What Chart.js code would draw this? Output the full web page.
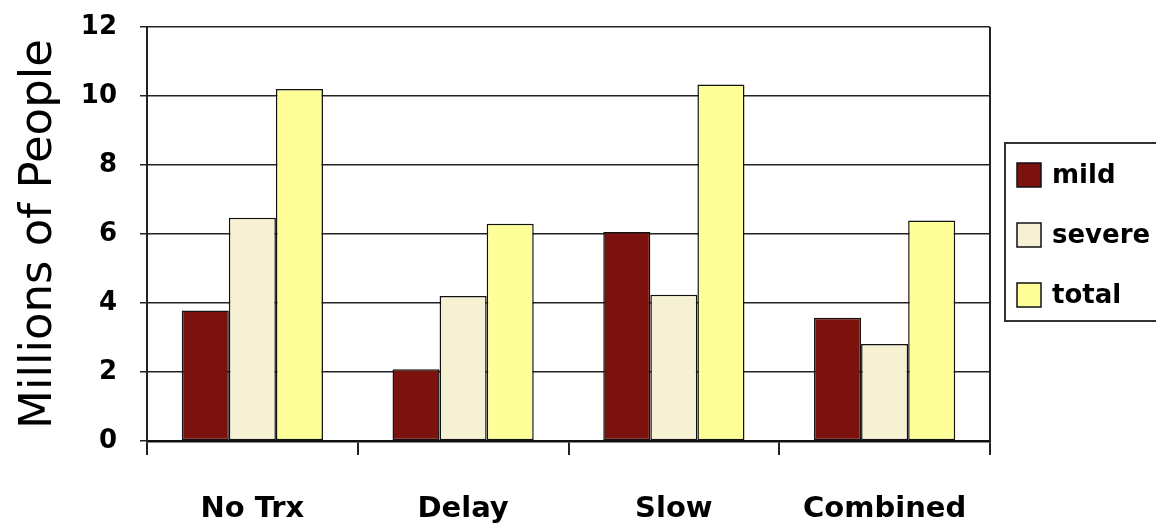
<!DOCTYPE html>
<html>
<head>
<meta charset="utf-8">
<script src="https://cdn.jsdelivr.net/npm/chart.js@4.4.0/dist/chart.umd.min.js"></script>
<style>
  html, body { margin: 0; padding: 0; background: #fff; overflow: hidden; }
</style>
</head>
<body>
<canvas id="barChart" width="1156" height="527"></canvas>
<script>
// chart data
const categories = ["No Trx", "Delay", "Slow", "Combined"];
const mild = [3.78, 2.08, 6.06, 3.57];
const severe = [6.47, 4.2, 4.24, 2.81];
const total = [10.2, 6.3, 10.33, 6.39];
const yTicks = [0, 2, 4, 6, 8, 10, 12];

const FONT = "'Comic Sans MS', 'DejaVu Sans', sans-serif";

// legend in a box, partly cut off on the right like the original
const boxLegend = {
    id: "boxLegend",
    afterDraw(chart) {
        const ctx = chart.ctx;
        const area = chart.chartArea;
        ctx.save();
        // right border of plot
        ctx.strokeStyle = "#222";
        ctx.lineWidth = 2;
        ctx.beginPath();
        ctx.moveTo(area.right, area.top);
        ctx.lineTo(area.right, area.bottom);
        ctx.stroke();

        const x0 = area.right + 15;
        const y0 = 143;
        ctx.strokeStyle = "#333";
        ctx.lineWidth = 2;
        ctx.strokeRect(x0, y0, 200, 178);
        ctx.font = "bold 26px " + FONT;
        ctx.textBaseline = "middle";
        ctx.textAlign = "left";
        chart.data.datasets.forEach(function (ds, i) {
            const cy = y0 + 32 + i * 60;
            ctx.fillStyle = ds.backgroundColor;
            ctx.fillRect(x0 + 12, cy - 12, 24, 24);
            ctx.strokeStyle = "#111";
            ctx.lineWidth = 1.5;
            ctx.strokeRect(x0 + 12, cy - 12, 24, 24);
            ctx.fillStyle = "#000";
            ctx.fillText(ds.label, x0 + 47, cy + 1);
        });
        ctx.restore();
    }
};

const CHART = document.getElementById("barChart");

let barChart = new Chart(CHART, {
    type: "bar",
    data: {
        labels: categories,
        datasets: [
            { label: "mild", data: mild, backgroundColor: "#7C120E" },
            { label: "severe", data: severe, backgroundColor: "#F7F1D4" },
            { label: "total", data: total, backgroundColor: "#FFFF99" }
        ]
    },
    options: {
        responsive: false,
        animation: false,
        layout: { padding: { top: 27, right: 166, left: 0, bottom: 0 } },
        datasets: {
            bar: {
                borderColor: "#111",
                borderWidth: 1.5,
                borderSkipped: false,
                categoryPercentage: 0.67,
                barPercentage: 1.0
            }
        },
        plugins: {
            legend: { display: false },
            tooltip: { enabled: false }
        },
        scales: {
            x: {
                afterFit: function (scale) {
                    scale.height = 86;
                    scale.paddingLeft = 0;
                    scale.paddingRight = 0;
                },
                grid: {
                    offset: true,
                    drawOnChartArea: false,
                    drawTicks: true,
                    tickLength: 14,
                    color: "#222",
                    lineWidth: 2
                },
                border: { display: true, color: "#111", width: 2.5 },
                ticks: {
                    color: "#000",
                    padding: 37,
                    maxRotation: 0,
                    font: { family: FONT, size: 29, weight: "bold" }
                }
            },
            y: {
                min: 0,
                max: 12,
                afterFit: function (scale) {
                    scale.width = 147;
                    scale.paddingTop = 0;
                    scale.paddingBottom = 0;
                },
                afterBuildTicks: function (scale) {
                    scale.ticks = yTicks.map(function (v) { return { value: v }; });
                },
                grid: {
                    color: "#222",
                    lineWidth: 1.5,
                    drawTicks: true,
                    tickLength: 7
                },
                border: { display: true, color: "#222", width: 2 },
                ticks: {
                    color: "#000",
                    padding: 23,
                    font: { family: FONT, size: 26, weight: "bold" }
                },
                title: {
                    display: true,
                    text: "Millions of People",
                    color: "#000",
                    padding: { top: 12, bottom: 0 },
                    font: { family: FONT, size: 45, weight: "normal" }
                }
            }
        }
    },
    plugins: [boxLegend]
});
</script>
</body>
</html>
